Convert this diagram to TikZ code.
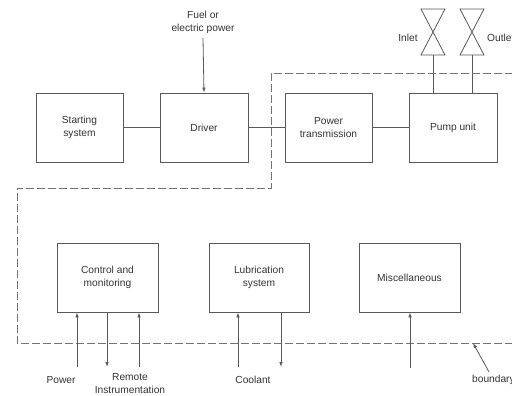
\documentclass[tikz,border=0pt]{standalone}
\usepackage{fontspec}
\setmainfont{Liberation Sans}
\usetikzlibrary{arrows.meta}
\tikzset{
  blk/.style={draw=black!65, line width=0.8pt, minimum height=69pt, align=center,
              font=\fontsize{10.2}{13}\selectfont, text=black!80, inner sep=0pt},
  lbl/.style={align=center, font=\fontsize{10.2}{13}\selectfont, text=black!80, inner sep=0pt},
  link/.style={draw=black!65, line width=0.8pt},
  flow/.style={draw=black!65, line width=0.8pt, -{Latex[length=5pt,width=3.5pt]}},
  bound/.style={draw=black!55, line width=0.9pt, dash pattern=on 8pt off 3pt},
  valve/.style={draw=black!65, line width=0.8pt, line join=miter}
}
\begin{document}
\begin{tikzpicture}[x=1pt, y=-1pt]
  \useasboundingbox (0,0) rectangle (512,396);

  % main drive train
  \node[blk, minimum width=87pt] (start) at (79.5,127.5) {Starting\\system};
  \node[blk, minimum width=88pt] (driver) at (204,127.5) {Driver};
  \node[blk, minimum width=87pt] (trans) at (328.5,127.5) {Power\\transmission};
  \node[blk, minimum width=88pt] (pump) at (453,127.5) {Pump unit};
  \draw[link] (start.east) -- (driver.west);
  \draw[link] (driver.east) -- (trans.west);
  \draw[link] (trans.east) -- (pump.west);

  % energy supply to the driver
  \node[lbl] (fuel) at (203,22) {Fuel or\\electric power};
  \coordinate (fueltop) at (203,38);
  \draw[flow] (fueltop) -- (driver.north);

  % inlet and outlet valves
  \coordinate (vin) at (433,55);
  \coordinate (vout) at (472,55);
  \draw[valve] (421,9) -- (445,9) -- (421,55) -- (445,55) -- cycle;
  \draw[valve] (460,9) -- (484,9) -- (460,55) -- (484,55) -- cycle;
  \draw[link] (pump.north -| vin) -- (vin);
  \draw[link] (pump.north -| vout) -- (vout);
  \node[lbl] (inlet) at (408,38) {Inlet};
  \node[lbl, anchor=west] (outlet) at (487,38) {Outlet};

  % package boundary
  \draw[bound] (513,73) -- (271,73) -- (271,188) -- (17,188) -- (17,343) -- (513,343);

  % auxiliary systems
  \node[blk, minimum width=101pt] (ctrl) at (107.5,277.5) {Control and\\monitoring};
  \node[blk, minimum width=100pt] (lube) at (259,277.5) {Lubrication\\system};
  \node[blk, minimum width=101pt] (misc) at (409.5,277.5) {Miscellaneous};

  \coordinate (pw) at (77,367);
  \coordinate (ro) at (107,367);
  \coordinate (ri) at (139,367);
  \coordinate (ci) at (238,367);
  \coordinate (co) at (281,367);
  \coordinate (mi) at (410,368);
  \draw[flow] (pw) -- (ctrl.south -| pw);
  \draw[flow] (ctrl.south -| ro) -- (ro);
  \draw[flow] (ri) -- (ctrl.south -| ri);
  \draw[flow] (ci) -- (lube.south -| ci);
  \draw[flow] (lube.south -| co) -- (co);
  \draw[flow] (mi) -- (misc.south -| mi);

  \node[lbl] (power) at (61,380) {Power};
  \node[lbl] (remote) at (130,384) {Remote\\Instrumentation};
  \node[lbl] (coolant) at (253,380) {Coolant};

  % boundary callout
  \node[lbl, anchor=west] (blabel) at (472,380) {boundary};
  \coordinate (btail) at (489,372);
  \coordinate (bhead) at (473,343);
  \draw[flow] (btail) -- (bhead);
\end{tikzpicture}
\end{document}
